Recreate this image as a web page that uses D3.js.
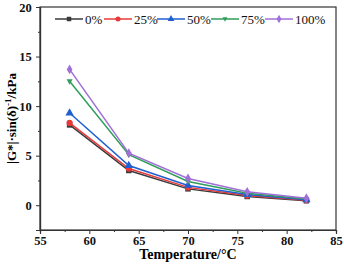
<!DOCTYPE html>
<html><head><meta charset="utf-8">
<script src="https://cdn.jsdelivr.net/npm/d3@7"></script>
<style>body{margin:0;background:#fff}svg{display:block}</style>
</head><body><svg width="344" height="264"></svg>
<script>
const temps = [58, 64, 70, 76, 82];
const seriesNames = ["0%", "25%", "50%", "75%", "100%"];
const s0 = [8.1, 3.5, 1.65, 0.88, 0.45];
const s25 = [8.3, 3.7, 1.8, 0.97, 0.5];
const s50 = [9.3, 4.0, 2.0, 1.08, 0.55];
const s75 = [12.5, 5.1, 2.4, 1.2, 0.62];
const s100 = [13.7, 5.25, 2.7, 1.35, 0.7];
const colors = ["#3a3a3a", "#e8393a", "#1f5fd1", "#2e9e5a", "#a070d8"];
const symbols = [d3.symbolSquare, d3.symbolCircle, d3.symbolTriangle, "tri-down", d3.symbolDiamond];
const xTicks = [55, 60, 65, 70, 75, 80, 85];
const yTicks = [0, 5, 10, 15, 20];
const allSeries = [s0, s25, s50, s75, s100];

const svg = d3.select("svg");
const L = 40, R = 336, T = 7, B = 230;
const x = d3.scaleLinear().domain([55, 85]).range([L, R]);
const y = d3.scaleLinear().domain([-2.5, 20]).range([B, T]);
const font = "'Liberation Serif','Times New Roman',serif";

svg.append("rect").attr("x", L).attr("y", T).attr("width", R - L).attr("height", B - T)
  .attr("fill", "none").attr("stroke", "#333").attr("stroke-width", 1.2);

const xa = svg.append("g").attr("transform", `translate(0,${B})`)
  .call(d3.axisBottom(x).tickValues(xTicks).tickSize(4).tickPadding(2).tickFormat(d3.format("d")));
const xm = svg.append("g").attr("transform", `translate(0,${B})`)
  .call(d3.axisBottom(x).tickValues(d3.range(57.5, 85, 5)).tickSize(2).tickFormat(""));
const ya = svg.append("g").attr("transform", `translate(${L},0)`)
  .call(d3.axisLeft(y).tickValues(yTicks).tickSize(4).tickFormat(d3.format("d")));
const ym = svg.append("g").attr("transform", `translate(${L},0)`)
  .call(d3.axisLeft(y).tickValues([-2.5, 2.5, 7.5, 12.5, 17.5]).tickSize(2).tickFormat(""));
[xa, xm, ya, ym].forEach(g => {
  g.select(".domain").attr("stroke", "#333").attr("stroke-width", 1.2);
  g.selectAll(".tick line").attr("stroke", "#333");
  g.selectAll("text").attr("font-family", font).attr("font-size", 12.5).attr("font-weight", "bold").attr("fill", "#111");
});
ya.selectAll("text").attr("dx", "-0.1em");

const triDown = { draw(ctx, size) { const h = Math.sqrt(size) * 1.1; ctx.moveTo(-h/2, -h/3); ctx.lineTo(h/2, -h/3); ctx.lineTo(0, h*0.55); ctx.closePath(); } };
function symType(i) { return symbols[i] === "tri-down" ? triDown : symbols[i]; }

const line = d3.line().x((d, j) => x(temps[j])).y(d => y(d));
allSeries.forEach((s, i) => {
  const g = svg.append("g");
  g.append("path").attr("d", line(s)).attr("fill", "none").attr("stroke", colors[i]).attr("stroke-width", 1.5);
  g.selectAll("path.m").data(s).join("path").attr("class", "m")
    .attr("transform", (d, j) => `translate(${x(temps[j])},${y(d)})`)
    .attr("d", d3.symbol().type(symType(i)).size(i === 4 ? 28 : 30)()).attr("fill", colors[i]);
});

const legX = [55, 104, 157, 211, 265];
seriesNames.forEach((n, i) => {
  const g = svg.append("g").attr("transform", `translate(${legX[i]},19)`);
  g.append("line").attr("x1", 0).attr("x2", 28).attr("stroke", colors[i]).attr("stroke-width", 1.5);
  g.append("path").attr("transform", "translate(14,0)").attr("d", d3.symbol().type(symType(i)).size(20)()).attr("fill", colors[i]);
  g.append("text").attr("x", 30).attr("y", 4.5).text(n)
    .attr("font-family", font).attr("font-size", 13).attr("fill", "#111");
});

svg.append("text").attr("x", (L + R) / 2).attr("y", 259).attr("text-anchor", "middle")
  .attr("font-family", font).attr("font-size", 14).attr("font-weight", "bold").text("Temperature/°C");
const yl = svg.append("text").attr("transform", `translate(16,${(T + B) / 2}) rotate(-90)`).attr("text-anchor", "middle")
  .attr("font-family", font).attr("font-size", 13).attr("font-weight", "bold");
yl.append("tspan").text("|G*|·sin(δ)");
yl.append("tspan").attr("dy", -5).attr("font-size", 9).text("-1");
yl.append("tspan").attr("dy", 5).text("/kPa");
</script></body></html>
